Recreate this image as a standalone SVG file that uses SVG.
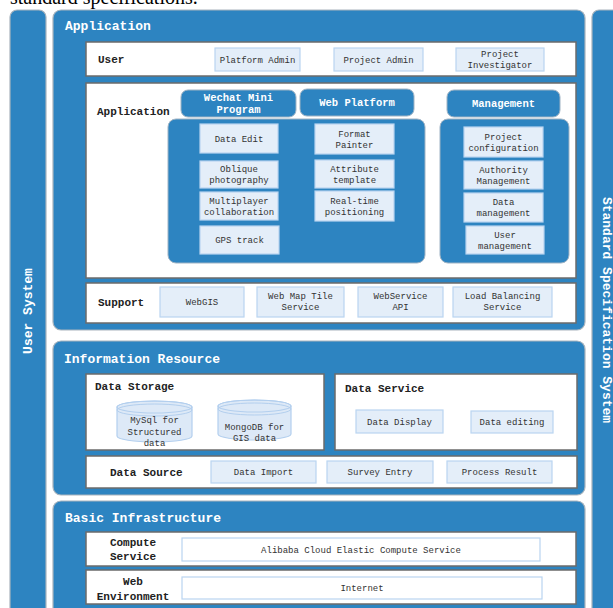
<svg xmlns="http://www.w3.org/2000/svg" width="613" height="608" viewBox="0 0 613 608">
<style>
.panel{fill:#2d84c1;stroke:#a9b4bd;stroke-width:1.2}
.box{fill:#ffffff;stroke:#6b6b6b;stroke-width:1.5}
.item{fill:#e4eef9;stroke:#b9d4f1;stroke-width:1.2}
.pill{fill:#2d84c1;stroke:#9fb3c4;stroke-width:1}
.title{font-family:"Liberation Mono","DejaVu Sans Mono",monospace;font-size:13px;font-weight:bold;fill:#ffffff}
.lbl{font-family:"Liberation Mono","DejaVu Sans Mono",monospace;font-size:11px;font-weight:bold;fill:#222222}
.pt{font-family:"Liberation Mono","DejaVu Sans Mono",monospace;font-size:10.5px;font-weight:bold;fill:#ffffff;text-anchor:middle}
.it{font-family:"Liberation Mono","DejaVu Sans Mono",monospace;font-size:9px;fill:#333333;text-anchor:middle}
.cyl{fill:#dde9f7;stroke:#b3cfee;stroke-width:1.2}
</style>

<text x="10" y="4" font-family="Liberation Serif, serif" font-size="20" fill="#000">standard specifications.</text>

<g id="user-system">
<rect class="panel" x="10" y="10" width="36" height="610" rx="7"/>
<text class="title" transform="translate(32,311) rotate(-90)" text-anchor="middle">User System</text>
</g>

<g id="standard-spec">
<rect class="panel" x="592" y="10" width="40" height="610" rx="7"/>
<text class="title" transform="translate(603,310) rotate(90)" text-anchor="middle">Standard Specification System</text>
</g>

<g id="application-layer">
<rect class="panel" x="53" y="10" width="532" height="320" rx="8"/>
<text class="title" x="65" y="30">Application</text>
</g>

<g id="user-row">
<rect class="box" x="86" y="42" width="490" height="34"/>
<text class="lbl" x="98" y="63">User</text>
<rect class="item" x="215" y="48" width="85" height="23"/>
<text class="it" x="257.5" y="63">Platform Admin</text>
<rect class="item" x="334" y="48" width="89" height="23"/>
<text class="it" x="378.5" y="63">Project Admin</text>
<rect class="item" x="456" y="48" width="88" height="23"/>
<text class="it" x="500" y="57">Project</text>
<text class="it" x="500" y="68">Investigator</text>
</g>

<g id="application-box">
<rect class="box" x="86" y="83" width="490" height="195"/>
<text class="lbl" x="97" y="115">Application</text>
</g>

<g id="wechat">
<rect class="pill" x="181" y="90" width="115" height="27" rx="7"/>
<text class="pt" x="238.5" y="101">Wechat Mini</text>
<text class="pt" x="238.5" y="113">Program</text>
</g>
<g id="web-platform">
<rect class="pill" x="300" y="89" width="114" height="27" rx="7"/>
<text class="pt" x="357" y="106">Web Platform</text>
</g>
<g id="management">
<rect class="pill" x="447" y="90" width="113" height="27" rx="7"/>
<text class="pt" x="503.5" y="107">Management</text>
</g>

<g id="client-functions">
<rect class="pill" x="168" y="119" width="257" height="144" rx="8"/>
<rect class="item" x="200" y="124" width="78" height="29"/>
<text class="it" x="239" y="142">Data Edit</text>
<rect class="item" x="200" y="161" width="78" height="27"/>
<text class="it" x="239" y="172">Oblique</text>
<text class="it" x="239" y="183">photography</text>
<rect class="item" x="200" y="192" width="78" height="28"/>
<text class="it" x="239" y="204">Multiplayer</text>
<text class="it" x="239" y="215">collaboration</text>
<rect class="item" x="200" y="226" width="79" height="28"/>
<text class="it" x="239.5" y="243">GPS track</text>
<rect class="item" x="315" y="124" width="79" height="30"/>
<text class="it" x="354.5" y="137">Format</text>
<text class="it" x="354.5" y="148">Painter</text>
<rect class="item" x="315" y="160" width="79" height="28"/>
<text class="it" x="354.5" y="172">Attribute</text>
<text class="it" x="354.5" y="183">template</text>
<rect class="item" x="315" y="191" width="79" height="30"/>
<text class="it" x="354.5" y="204">Real-time</text>
<text class="it" x="354.5" y="215">positioning</text>
</g>

<g id="management-functions">
<rect class="pill" x="440" y="119" width="129" height="144" rx="8"/>
<rect class="item" x="464" y="127" width="79" height="30"/>
<text class="it" x="503.5" y="140">Project</text>
<text class="it" x="503.5" y="151">configuration</text>
<rect class="item" x="464" y="161" width="79" height="28"/>
<text class="it" x="503.5" y="173">Authority</text>
<text class="it" x="503.5" y="184">Management</text>
<rect class="item" x="464" y="193" width="79" height="29"/>
<text class="it" x="503.5" y="205">Data</text>
<text class="it" x="503.5" y="216">management</text>
<rect class="item" x="466" y="226" width="78" height="28"/>
<text class="it" x="505" y="238">User</text>
<text class="it" x="505" y="249">management</text>
</g>

<g id="support-row">
<rect class="box" x="86" y="283" width="490" height="40"/>
<text class="lbl" x="98" y="306">Support</text>
<rect class="item" x="160" y="287" width="84" height="30"/>
<text class="it" x="202" y="305">WebGIS</text>
<rect class="item" x="257" y="287" width="87" height="30"/>
<text class="it" x="300.5" y="299">Web Map Tile</text>
<text class="it" x="300.5" y="310">Service</text>
<rect class="item" x="358" y="287" width="85" height="30"/>
<text class="it" x="400.5" y="299">WebService</text>
<text class="it" x="400.5" y="310">API</text>
<rect class="item" x="453" y="287" width="99" height="30"/>
<text class="it" x="502.5" y="299">Load Balancing</text>
<text class="it" x="502.5" y="310">Service</text>
</g>

<g id="information-resource">
<rect class="panel" x="53" y="341" width="532" height="154" rx="8"/>
<text class="title" x="64" y="363">Information Resource</text>
</g>

<g id="data-storage">
<rect class="box" x="86" y="374" width="238" height="76"/>
<text class="lbl" x="95" y="390">Data Storage</text>
<path class="cyl" d="M117,407 A37.5,6 0 0 1 192,407 L192,436 A37.5,6 0 0 1 117,436 Z"/>
<ellipse cx="154.5" cy="407" rx="37.5" ry="6" fill="none" stroke="#b3cfee" stroke-width="1.2"/>
<ellipse cx="154.5" cy="410" rx="37.5" ry="6" fill="none" stroke="#b3cfee" stroke-width="1"/>
<text class="it" x="154.5" y="423">MySql for</text>
<text class="it" x="154.5" y="435">Structured</text>
<text class="it" x="154.5" y="446">data</text>
<path class="cyl" d="M218,406 A36.5,6 0 0 1 291,406 L291,434 A36.5,6 0 0 1 218,434 Z"/>
<ellipse cx="254.5" cy="406" rx="36.5" ry="6" fill="none" stroke="#b3cfee" stroke-width="1.2"/>
<ellipse cx="254.5" cy="409" rx="36.5" ry="6" fill="none" stroke="#b3cfee" stroke-width="1"/>
<text class="it" x="254.5" y="430">MongoDB for</text>
<text class="it" x="254.5" y="441">GIS data</text>
</g>

<g id="data-service">
<rect class="box" x="335" y="374" width="242" height="76"/>
<text class="lbl" x="345" y="392">Data Service</text>
<rect class="item" x="356" y="410" width="87" height="23"/>
<text class="it" x="399.5" y="425">Data Display</text>
<rect class="item" x="471" y="411" width="82" height="22"/>
<text class="it" x="512" y="425">Data editing</text>
</g>

<g id="data-source">
<rect class="box" x="86" y="456" width="491" height="32"/>
<text class="lbl" x="110" y="476">Data Source</text>
<rect class="item" x="211" y="461" width="105" height="22"/>
<text class="it" x="263.5" y="475">Data Import</text>
<rect class="item" x="327" y="461" width="106" height="22"/>
<text class="it" x="380" y="475">Survey Entry</text>
<rect class="item" x="447" y="461" width="105" height="22"/>
<text class="it" x="499.5" y="475">Process Result</text>
</g>

<g id="basic-infrastructure">
<rect class="panel" x="53" y="501" width="532" height="130" rx="8"/>
<text class="title" x="65" y="522">Basic Infrastructure</text>
</g>

<g id="compute-service">
<rect class="box" x="86" y="532" width="490" height="34" stroke="none"/>
<text class="lbl" x="133" y="546" text-anchor="middle" font-weight="normal" style="font-weight:600">Compute</text>
<text class="lbl" x="133" y="560" text-anchor="middle" style="font-weight:600">Service</text>
<rect class="item" x="182" y="538" width="358" height="23" fill="#ffffff" style="fill:#ffffff"/>
<text class="it" x="361" y="553">Alibaba Cloud Elastic Compute Service</text>
</g>

<g id="web-environment">
<rect class="box" x="86" y="570" width="490" height="34" stroke="none"/>
<text class="lbl" x="133" y="585" text-anchor="middle" style="font-weight:600">Web</text>
<text class="lbl" x="133" y="600" text-anchor="middle" style="font-weight:600">Environment</text>
<rect class="item" x="182" y="577" width="360" height="22" style="fill:#ffffff"/>
<text class="it" x="362" y="591">Internet</text>
</g>

<g id="connectors"></g>
</svg>
